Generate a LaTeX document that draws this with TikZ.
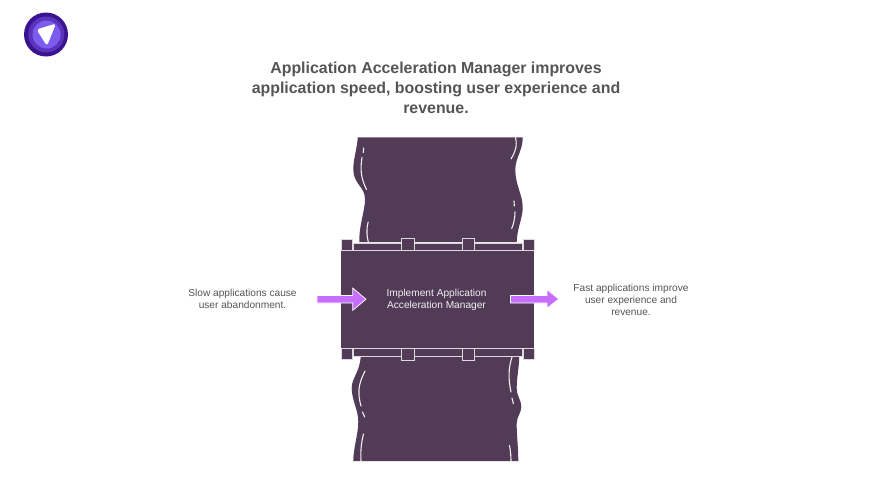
\documentclass[tikz,border=0pt]{standalone}
\usepackage{fontspec}
\setmainfont{Liberation Sans}
\definecolor{plum}{HTML}{513B56}
\definecolor{arrowc}{HTML}{C86EFF}
\definecolor{txt}{HTML}{555555}
\definecolor{pa}{HTML}{3A1490}
\definecolor{pb}{HTML}{5B34BE}
\definecolor{pc}{HTML}{7B5CEF}
\tikzset{
  part/.style={fill=plum,draw=white!80!plum,line width=0.6pt},
  pipe/.style={fill=plum,draw=none},
  shine/.style={draw=white!92!plum,line width=1.1pt,line cap=round},
  flow/.style={fill=arrowc,draw=white,line width=0.7pt,line join=miter},
  lab/.style={align=center,text=txt,font=\fontsize{10.15}{11.9}\selectfont,inner sep=0pt},
  ttl/.style={align=center,text=txt,font=\bfseries\fontsize{15.9}{20}\selectfont,inner sep=0pt}
}
\begin{document}
\begin{tikzpicture}[x=1pt,y=-1pt]
\useasboundingbox (0,0) rectangle (876,493);
\fill[white] (0,0) rectangle (876,493);
% logo
\fill[pa] (46,34.5) circle (22);
\fill[pb] (46.3,34.5) circle (18);
\fill[pc] (46.6,34.5) circle (14);
\fill[white,rounded corners=3pt] (36.5,29.5) -- (56,23.5) -- (47,46) -- cycle;
% title
\node[ttl] (title) at (436,88) {Application Acceleration Manager improves\\application speed, boosting user experience and\\revenue.};
% top pipe
\fill[pipe] (357.7,137.3) .. controls (357.5,147) and (353,160) .. (353.3,170)
  .. controls (353.6,184) and (365,187) .. (365,199)
  .. controls (365,211) and (359,225) .. (359.3,242)
  -- (516.7,242) .. controls (517,228) and (522.9,218) .. (522.7,206.7)
  .. controls (522.5,195) and (515.5,185) .. (515.3,170)
  .. controls (515.2,158) and (523,150) .. (522.7,137.3) -- cycle;
% bottom pipe
\fill[pipe] (360.7,356) .. controls (360,372) and (351.7,378) .. (351.7,388)
  .. controls (351.7,400) and (358.3,410) .. (358.3,421.7)
  .. controls (358.3,434) and (353.3,448) .. (353.3,461)
  -- (518.3,461) .. controls (518.3,447) and (516.5,434) .. (516.7,423.3)
  .. controls (516.9,416) and (521.3,413) .. (521.3,406.7)
  .. controls (521.3,400) and (516.7,396) .. (516.7,388)
  .. controls (516.7,378) and (519,368) .. (519.3,356) -- cycle;
% top highlights
\draw[shine] (363.7,148) -- (363.2,152.5);
\draw[shine] (362,157.5) .. controls (360,170) and (361,178) .. (366.5,189.5);
\draw[shine] (368.2,222) .. controls (366,230) and (367,237) .. (368.3,242);
\draw[shine] (515.5,137.3) .. controls (517.5,147) and (515,152) .. (511,159);
\draw[shine] (514,201) -- (514.3,206);
\draw[shine] (515,212) .. controls (515,219) and (513.5,224) .. (511.7,228.5);
% bottom highlights
\draw[shine] (365,371) .. controls (361,380) and (356,388) .. (361,406);
\draw[shine] (362.5,412) -- (364.7,417);
\draw[shine] (363.5,434) .. controls (361,444) and (360.5,452) .. (361,461);
\draw[shine] (512,357) .. controls (508.5,368) and (508,378) .. (511,392);
\draw[shine] (512,398) -- (513.3,403.5);
\draw[shine] (509.5,445.5) .. controls (510.5,451) and (511,456) .. (511,461);
% top flange
\draw[part] (353.2,243.3) rectangle (522.2,250.7);
\draw[part] (341.2,239.3) rectangle (352.2,250.7);
\draw[part] (523,239.3) rectangle (534,250.7);
\draw[part] (401.3,238.3) rectangle (414,250.7);
\draw[part] (462,238.3) rectangle (474.7,250.7);
% bottom flange
\draw[part] (353.2,348.3) rectangle (522.2,356);
\draw[part] (341.2,348.3) rectangle (352.2,359.3);
\draw[part] (523,348.3) rectangle (534,359.3);
\draw[part] (401.3,348.3) rectangle (414,360);
\draw[part] (462,348.3) rectangle (474.7,360);
% main box
\node[fill=plum,minimum width=192.8pt,minimum height=96.3pt,inner sep=0pt,anchor=north west] (box) at (341.2,251) {};
\node[lab,text=white!92!plum] (boxtext) at (436.5,299.5) {Implement Application\\Acceleration Manager};
% labels
\node[lab] (left) at (242.5,299) {Slow applications cause\\user abandonment.};
\node[lab] (right) at (631,299.5) {Fast applications improve\\user experience and\\revenue.};
% arrows
\draw[flow] (317,295.4) -- (352.7,295.4) -- (352.7,288) -- (366,299.2) -- (352.7,310.4) -- (352.7,303) -- (317,303) -- cycle;
\draw[flow] (510.4,295.4) -- (547,295.4) -- (547,289.6) -- (558.8,299) -- (547,308.2) -- (547,303) -- (510.4,303) -- cycle;
\end{tikzpicture}
\end{document}
